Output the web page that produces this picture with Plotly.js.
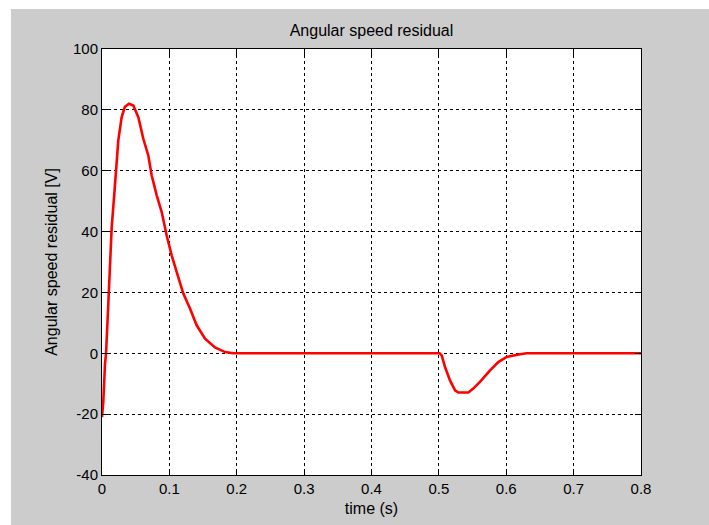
<!DOCTYPE html>
<html>
<head>
<meta charset="utf-8">
<script src="https://cdn.plot.ly/plotly-3.0.1.min.js"></script>
<style>
html, body { margin: 0; padding: 0; background: #ffffff; width: 709px; height: 525px; overflow: hidden; }
#chart { position: absolute; left: 11px; top: 9px; width: 698px; height: 516px; }
</style>
</head>
<body>
<div id="chart"></div>
<script>
// time (s)
const timeS = [
  0, 0.0019, 0.0045, 0.006, 0.0094, 0.0119, 0.0144, 0.0183, 0.0208, 0.0242, 0.0292, 0.034, 0.0401,
  0.0465, 0.0539, 0.0613, 0.0687, 0.0737, 0.0812, 0.0886, 0.096, 0.1034, 0.1109, 0.1207, 0.1306,
  0.1405, 0.1529, 0.1677, 0.1826, 0.195,
  0.501, 0.5042, 0.5091, 0.5165, 0.524, 0.5288, 0.5437, 0.551, 0.561, 0.5759, 0.5882, 0.6007, 0.6204, 0.63,
  0.8
];
// residual [V]
const residual = [
  -21, -16, -3.3, 0, 16.4, 30.5, 41.5, 52.5, 61, 70, 77.6, 81, 82,
  81.4, 77.6, 70.5, 65, 58.5, 51.9, 46.4, 38.7, 32.2, 26.7, 19.6, 14.7,
  9.2, 4.8, 1.9, 0.4, 0,
  0, -0.7, -4.5, -8.9, -12.2, -12.9, -12.9, -11.6, -9.4, -5.6, -2.9, -1.2, -0.3, 0,
  0
];
const xTicks = [0, 0.1, 0.2, 0.3, 0.4, 0.5, 0.6, 0.7, 0.8];
const xTickLabels = ["0", "0.1", "0.2", "0.3", "0.4", "0.5", "0.6", "0.7", "0.8"];
const yTicks = [-40, -20, 0, 20, 40, 60, 80, 100];
const yTickLabels = ["-40", "-20", "0", "20", "40", "60", "80", "100"];
const titleText = "Angular speed residual";
const xTitle = "time (s)";
const yTitle = "Angular speed residual [V]";

const tickFont = { family: "Liberation Sans, Arial, sans-serif", size: 15, color: "#000000" };
const titleFont = { family: "Liberation Sans, Arial, sans-serif", size: 16, color: "#000000" };

const trace = {
  x: timeS, y: residual, type: "scatter", mode: "lines",
  line: { color: "#ff0000", width: 2.6 }, hoverinfo: "skip"
};

const axisCommon = {
  showline: true, linecolor: "#000000", linewidth: 1, mirror: "ticks",
  ticks: "inside", ticklen: 6, tickwidth: 1, tickcolor: "#000000",
  showgrid: true, gridcolor: "#000000", gridwidth: 1, griddash: "3px,3px",
  zeroline: false, tickfont: tickFont, tickmode: "array"
};

const layout = {
  width: 698, height: 516,
  paper_bgcolor: "#cccccc", plot_bgcolor: "#ffffff",
  margin: { l: 91, r: 68, t: 40, b: 50 },
  showlegend: false,
  font: tickFont,
  title: { text: titleText, font: titleFont, x: 0.5, xref: "paper", y: 1 - 21 / 516, yref: "container", yanchor: "middle" },
  xaxis: Object.assign({}, axisCommon, {
    range: [0, 0.8], tickvals: xTicks, ticktext: xTickLabels,
    title: { text: xTitle, font: titleFont, standoff: 6 }, automargin: false
  }),
  yaxis: Object.assign({}, axisCommon, {
    range: [-40, 100], tickvals: yTicks, ticktext: yTickLabels,
    title: { text: yTitle, font: titleFont, standoff: 11 }, automargin: false
  })
};

Plotly.newPlot("chart", [trace], layout, { displayModeBar: false, staticPlot: true });
</script>
</body>
</html>
